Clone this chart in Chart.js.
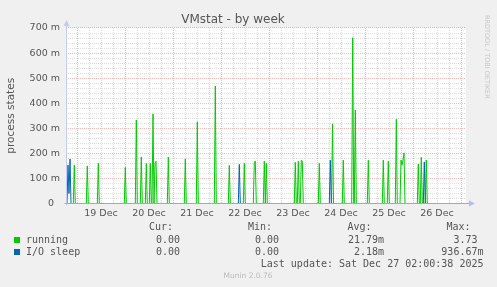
<!DOCTYPE html>
<html>
<head>
<meta charset="utf-8">
<title>VMstat - by week</title>
<script src="https://cdn.jsdelivr.net/npm/chart.js@4.4.1/dist/chart.umd.min.js"></script>
<style>
  html, body { margin: 0; padding: 0; background: #f0f0f0; }
  #wrap { position: relative; width: 497px; height: 287px; overflow: hidden; }
  #wrap canvas { position: absolute; left: 0; top: 0; }
  .t { position: absolute; white-space: pre; font: 10px/12px "DejaVu Sans Mono", monospace; color: #555; }
  .sw { position: absolute; left: 14px; width: 6px; height: 6px; }
  #munin { position: absolute; left: 0; width: 496px; top: 271px; text-align: center;
           font: 7.5px/10px "DejaVu Sans", sans-serif; color: #bbb; }
  #rrd { position: absolute; left: 491px; top: 15px; transform-origin: 0 0; transform: rotate(90deg);
         white-space: nowrap; font: 6.5px/8px "DejaVu Sans", sans-serif; color: #c8c8c8; }
</style>
</head>
<body>
<div id="wrap">
  <canvas id="chart" width="497" height="287"></canvas>

  <div class="t" style="right:324px;top:221px">Cur:</div>
  <div class="t" style="right:225px;top:221px">Min:</div>
  <div class="t" style="right:125.5px;top:221px">Avg:</div>
  <div class="t" style="right:26.5px;top:221px">Max:</div>

  <div class="sw" style="top:237px;background:#00cc00"></div>
  <div class="t" style="left:26px;top:233.5px">running</div>
  <div class="t" style="right:317px;top:233.5px">0.00</div>
  <div class="t" style="right:218px;top:233.5px">0.00</div>
  <div class="t" style="right:113px;top:233.5px">21.79m</div>
  <div class="t" style="right:19.5px;top:233.5px">3.73</div>

  <div class="sw" style="top:249.3px;background:#0066b3"></div>
  <div class="t" style="left:26px;top:245.8px">I/O sleep</div>
  <div class="t" style="right:317px;top:245.8px">0.00</div>
  <div class="t" style="right:218px;top:245.8px">0.00</div>
  <div class="t" style="right:113px;top:245.8px">2.18m</div>
  <div class="t" style="right:13.5px;top:245.8px">936.67m</div>

  <div class="t" style="right:13.5px;top:257.8px">Last update: Sat Dec 27 02:00:38 2025</div>
  <div id="munin">Munin 2.0.76</div>
  <div id="rrd">RRDTOOL / TOBI OETIKER</div>
</div>

<script>
// x values are hours counted from 19 Dec 00:00
const dayLabels = ['19 Dec', '20 Dec', '21 Dec', '22 Dec', '23 Dec', '24 Dec', '25 Dec', '26 Dec'];
const yTickLabels = ['0  ', '100 m', '200 m', '300 m', '400 m', '500 m', '600 m', '700 m'];

const runningHours = [
  -5.5,
  -1.85, -1.35, -0.85,
  4.65, 5.15, 5.65,
  10.15, 10.65, 11.15,
  23.65, 24.15, 24.65,
  29.15, 29.65, 30.15,
  31.65, 32.15, 32.65,
  34.15, 34.65, 35.15,
  36.15, 36.65, 37.15,
  37.5, 38, 38.5, 39, 39.5, 40,
  45.15, 45.65, 46.15,
  53.65, 54.15, 54.65,
  59.65, 60.15, 60.65,
  68.65, 69.15, 69.65,
  75.65, 76.15, 76.65,
  83.15, 83.65, 84.15,
  88.15, 88.65, 89.15, 89.65,
  93.15, 93.65, 94.15, 94.65, 95.15,
  108.65, 109.15, 109.65,
  110.15, 110.65, 111.15,
  111.65, 112.15, 112.65, 113.15,
  120.65, 121.15, 121.65,
  127.25, 127.75, 128.25,
  132.65, 133.15, 133.65,
  137.35, 137.85, 138.35,
  138.65, 139.15, 139.65,
  145.15, 145.65, 146.15,
  152.65, 153.15, 153.65,
  155.15, 155.65, 156.15,
  159.15, 159.65, 160.15,
  161.5, 162, 162.5, 163, 163.5, 164,
  170.15, 170.65, 171.15,
  171.65, 172.15, 172.65,
  174.15, 174.65, 175.15,
  194.5
];
const runningValues = [
  0,
  0, 0.153, 0,
  0, 0.150, 0,
  0, 0.160, 0,
  0, 0.144, 0,
  0, 0.333, 0,
  0, 0.185, 0,
  0, 0.160, 0,
  0, 0.160, 0,
  0, 0.357, 0, 0.160, 0.168, 0,
  0, 0.185, 0,
  0, 0.177, 0,
  0, 0.326, 0,
  0, 0.469, 0,
  0, 0.152, 0,
  0, 0.160, 0,
  0, 0.166, 0.169, 0,
  0, 0.169, 0, 0.160, 0,
  0, 0.164, 0,
  0, 0.169, 0,
  0, 0.173, 0.169, 0,
  0, 0.160, 0,
  0, 0.317, 0,
  0, 0.173, 0,
  0, 0.661, 0,
  0, 0.373, 0,
  0, 0.173, 0,
  0, 0.173, 0,
  0, 0.169, 0,
  0, 0.336, 0,
  0, 0.173, 0.153, 0.173, 0.202, 0,
  0, 0.157, 0,
  0, 0.184, 0,
  0, 0.173, 0,
  0
];

const sleepHours = [
  -5.5, -5, -4.5, -4, -3.5, -3,
  80.65, 81.15, 81.65,
  126.15, 126.65, 127.15,
  173.15, 173.65, 174.15,
  194.5
];
const sleepValues = [
  0, 0, 0.153, 0.040, 0.177, 0,
  0, 0.156, 0,
  0, 0.173, 0,
  0, 0.166, 0,
  0
];

const xMin = -5.5;
const xMax = 194.5;
const minorGrid = 'rgba(200, 200, 200, 0.6)';
const majorGrid = 'rgba(225, 120, 120, 0.5)';
const axisColor = '#9aa6e2';
const tickFont = { family: 'DejaVu Sans', size: 9.5 };

const toPoints = (xs, ys) => xs.map((x, i) => ({ x, y: ys[i] }));

// white canvas behind the plot, axes and arrows on top of the lines
const muninFrame = {
  id: 'muninFrame',
  beforeDraw(chart) {
    const { ctx, chartArea: a } = chart;
    ctx.save();
    ctx.fillStyle = '#ffffff';
    ctx.fillRect(a.left, a.top, a.right - a.left, a.bottom - a.top);
    ctx.restore();
  },
  afterDatasetsDraw(chart) {
    const { ctx, chartArea: a } = chart;
    const x0 = Math.round(a.left) + 0.5;
    const y0 = Math.floor(a.bottom) + 0.5;
    ctx.save();
    ctx.lineWidth = 1;
    ctx.strokeStyle = '#c4cbf2';
    ctx.beginPath();
    ctx.moveTo(x0, y0 + 2);
    ctx.lineTo(x0, a.top - 2);
    ctx.stroke();
    ctx.strokeStyle = axisColor;
    ctx.beginPath();
    ctx.moveTo(x0 - 2, y0);
    ctx.lineTo(a.right + 3, y0);
    ctx.stroke();
    ctx.fillStyle = '#c4cbf2';
    ctx.beginPath();
    ctx.moveTo(x0 - 3, a.top - 2);
    ctx.lineTo(x0 + 3, a.top - 2);
    ctx.lineTo(x0, a.top - 8);
    ctx.closePath();
    ctx.fill();
    ctx.fillStyle = '#b4bdf0';
    ctx.beginPath();
    ctx.moveTo(a.right + 3, y0 - 3);
    ctx.lineTo(a.right + 3, y0 + 3);
    ctx.lineTo(a.right + 9, y0);
    ctx.closePath();
    ctx.fill();
    ctx.restore();
  }
};

new Chart(document.getElementById('chart'), {
  type: 'line',
  data: {
    datasets: [
      {
        label: 'I/O sleep',
        data: toPoints(sleepHours, sleepValues),
        borderColor: '#0066b3',
        borderWidth: 1,
        pointRadius: 0,
        tension: 0,
        fill: false,
        order: 0
      },
      {
        label: 'running',
        data: toPoints(runningHours, runningValues),
        borderColor: '#00cc00',
        borderWidth: 1,
        pointRadius: 0,
        tension: 0,
        fill: false,
        order: 1
      }
    ]
  },
  options: {
    responsive: false,
    animation: false,
    devicePixelRatio: 1,
    layout: { padding: { left: 0, right: 31, top: 0, bottom: 63.5 } },
    plugins: {
      legend: { display: false },
      tooltip: { enabled: false },
      title: {
        display: true,
        text: 'VMstat - by week',
        color: '#555',
        font: { family: 'DejaVu Sans', size: 12, weight: 'normal' },
        padding: { top: 13, bottom: 0.6 }
      }
    },
    scales: {
      x: {
        type: 'linear',
        min: xMin,
        max: xMax,
        afterBuildTicks: (scale) => {
          const ticks = [];
          for (let h = 0; h <= xMax; h += 6) ticks.push({ value: h });
          scale.ticks = ticks;
        },
        afterFit: (scale) => { scale.height = 20; },
        ticks: {
          autoSkip: false,
          maxRotation: 0,
          padding: 4,
          color: '#555',
          font: tickFont,
          callback: (v) => (v % 24 === 12 ? dayLabels[(v - 12) / 24] : '')
        },
        grid: {
          drawTicks: false,
          lineWidth: 1,
          color: (c) => (c.tick && c.tick.value % 24 === 0 ? majorGrid : minorGrid)
        },
        border: { display: false, dash: [1, 1] }
      },
      y: {
        min: 0,
        max: 0.7,
        afterBuildTicks: (scale) => {
          const ticks = [];
          for (let i = 0; i <= 35; i++) ticks.push({ value: i * 0.02 });
          scale.ticks = ticks;
        },
        afterFit: (scale) => { scale.width = 66; },
        title: {
          display: true,
          text: 'process states',
          color: '#555',
          font: { family: 'DejaVu Sans', size: 10.5 },
          padding: { top: 5, bottom: 0 }
        },
        ticks: {
          autoSkip: false,
          padding: 6,
          color: '#555',
          font: tickFont,
          callback: (v) => {
            const m = Math.round(v * 1000);
            return m % 100 === 0 ? yTickLabels[m / 100] : '';
          }
        },
        grid: {
          drawTicks: false,
          lineWidth: 1,
          color: (c) => (c.tick && Math.round(c.tick.value * 1000) % 100 === 0 ? majorGrid : minorGrid)
        },
        border: { display: false, dash: [1, 1] }
      }
    }
  },
  plugins: [muninFrame]
});
</script>
</body>
</html>
